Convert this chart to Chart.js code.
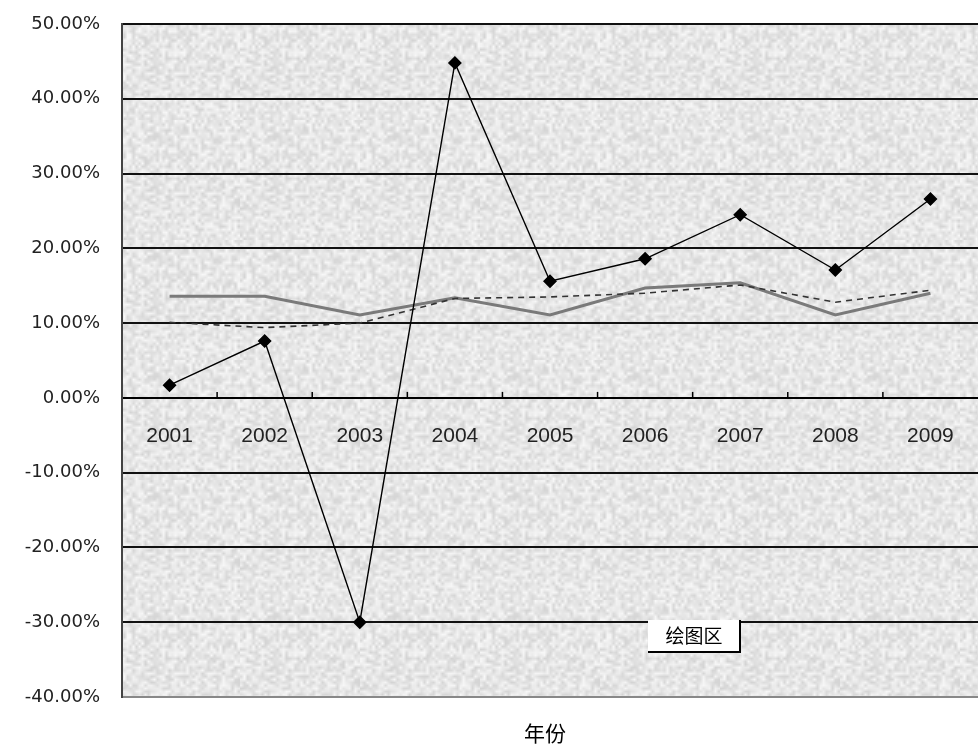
<!DOCTYPE html>
<html lang="zh">
<head>
<meta charset="utf-8">
<title>年份</title>
<script src="https://cdn.jsdelivr.net/npm/chart.js@4.4.1/dist/chart.umd.min.js"></script>
<style>
    body { margin: 0; background: #fff; }
    #caixa { width: 978px; height: 749px; position: relative; }
</style>
</head>
<body>
<div id="caixa"><canvas id="grafico"></canvas></div>
<script>
// Dados (percentuais)
const anos = ['2001', '2002', '2003', '2004', '2005', '2006', '2007', '2008', '2009'];
const serieLosango = [1.7, 7.6, -30.0, 44.8, 15.6, 18.6, 24.5, 17.1, 26.6];
const serieCinza = [13.6, 13.6, 11.1, 13.4, 11.1, 14.7, 15.4, 11.1, 14.0];
const serieTracejada = [10.1, 9.4, 10.0, 13.3, 13.5, 14.0, 15.1, 12.8, 14.4];
const eixoY = { min: -40, max: 50, passo: 10 };
const tituloX = '年份';
const rotuloArea = '绘图区';

// Textura cinza clara do fundo (padrão fixo, suavizado)
function criarTextura() {
    const p = document.createElement('canvas');
    p.width = 40;
    p.height = 40;
    const gp = p.getContext('2d');
    const img = gp.createImageData(40, 40);
    for (let i = 0; i < 40 * 40; i++) {
        const h = Math.sin(i * 12.9898 + 78.233) * 43758.5453;
        const f = h - Math.floor(h);
        const v = Math.round(212 + f * 36);
        img.data[i * 4] = v;
        img.data[i * 4 + 1] = v;
        img.data[i * 4 + 2] = v;
        img.data[i * 4 + 3] = 255;
    }
    gp.putImageData(img, 0, 0);

    const c = document.createElement('canvas');
    c.width = 120;
    c.height = 120;
    const g = c.getContext('2d');
    g.imageSmoothingEnabled = true;
    g.drawImage(p, 0, 0, 120, 120);
    return c;
}

const pluginFundo = {
    id: 'pluginFundo',
    beforeDraw(chart) {
        const { ctx, chartArea } = chart;
        ctx.save();
        ctx.fillStyle = ctx.createPattern(criarTextura(), 'repeat');
        ctx.fillRect(chartArea.left, chartArea.top, chartArea.right - chartArea.left, chartArea.bottom - chartArea.top);
        ctx.restore();
    },
    afterDraw(chart) {
        const { ctx } = chart;
        const x = chart.scales.x;
        const y = chart.scales.y;
        const y0 = y.getPixelForValue(0);

        // Marcas do eixo X voltadas para cima, entre as categorias
        ctx.save();
        ctx.strokeStyle = '#000';
        ctx.lineWidth = 1.5;
        for (let i = 0; i < anos.length - 1; i++) {
            const xm = (x.getPixelForValue(i) + x.getPixelForValue(i + 1)) / 2;
            ctx.beginPath();
            ctx.moveTo(xm, y0);
            ctx.lineTo(xm, y0 - 6);
            ctx.stroke();
        }

        // Caixa "绘图区"
        const bx = 648, by = 620, bw = 92, bh = 32;
        ctx.fillStyle = '#fff';
        ctx.fillRect(bx, by, bw, bh);
        ctx.strokeStyle = '#000';
        ctx.lineWidth = 2;
        ctx.beginPath();
        ctx.moveTo(bx, by + bh);
        ctx.lineTo(bx + bw, by + bh);
        ctx.lineTo(bx + bw, by);
        ctx.stroke();
        ctx.fillStyle = '#000';
        ctx.font = '19px "Noto Sans CJK SC"';
        ctx.textAlign = 'center';
        ctx.textBaseline = 'middle';
        ctx.fillText(rotuloArea, bx + bw / 2, by + bh / 2);

        // Título do eixo X
        ctx.font = '21px "Noto Sans CJK SC"';
        ctx.fillText(tituloX, 545, 733);
        ctx.restore();
    }
};

document.addEventListener('DOMContentLoaded', function () {
    const ctx = document.getElementById('grafico').getContext('2d');

    new Chart(ctx, {
        type: 'line',
        data: {
            labels: anos,
            datasets: [
                {
                    label: 'série 1',
                    data: serieLosango,
                    borderColor: '#000',
                    borderWidth: 1.4,
                    pointStyle: 'rectRot',
                    pointRadius: 6,
                    pointBackgroundColor: '#000',
                    pointBorderColor: '#000',
                    tension: 0,
                    order: 1
                },
                {
                    label: 'série 2',
                    data: serieCinza,
                    borderColor: '#7a7a7a',
                    borderWidth: 3,
                    pointRadius: 0,
                    tension: 0,
                    order: 3
                },
                {
                    label: 'série 3',
                    data: serieTracejada,
                    borderColor: '#333',
                    borderWidth: 1.6,
                    borderDash: [6, 5],
                    pointRadius: 0,
                    tension: 0,
                    order: 2
                }
            ]
        },
        options: {
            responsive: true,
            maintainAspectRatio: false,
            animation: false,
            layout: {
                autoPadding: false,
                padding: { top: 24, bottom: 52, left: 0, right: -5 }
            },
            scales: {
                x: {
                    type: 'category',
                    position: { y: 0 },
                    offset: true,
                    afterFit: function (escala) {
                        escala.paddingTop = 0;
                        escala.paddingBottom = 0;
                        escala.paddingLeft = 0;
                        escala.paddingRight = -5;
                    },
                    grid: { display: false, drawTicks: false },
                    border: { display: true, color: '#000', width: 2 },
                    ticks: {
                        color: '#222',
                        padding: 26,
                        maxRotation: 0,
                        font: { family: 'Liberation Sans', size: 21 }
                    }
                },
                y: {
                    position: 'left',
                    min: eixoY.min,
                    max: eixoY.max,
                    afterFit: function (escala) {
                        escala.width = 122;
                        escala.paddingTop = 0;
                        escala.paddingBottom = 0;
                    },
                    grid: {
                        drawTicks: false,
                        color: (c) => c.tick && c.tick.value === eixoY.min ? '#888' : '#111',
                        lineWidth: 2
                    },
                    border: { display: true, color: '#444', width: 2 },
                    ticks: {
                        stepSize: eixoY.passo,
                        padding: 22,
                        color: '#222',
                        font: { family: 'DejaVu Sans', size: 18 },
                        callback: (v) => v.toFixed(2) + '%'
                    }
                }
            },
            plugins: {
                legend: { display: false },
                tooltip: { enabled: false }
            }
        },
        plugins: [pluginFundo]
    });
});
</script>
</body>
</html>
